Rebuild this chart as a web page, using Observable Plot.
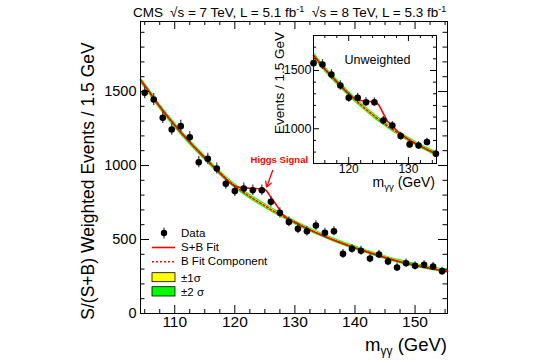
<!DOCTYPE html>
<html><head><meta charset="utf-8">
<script src="https://cdn.jsdelivr.net/npm/d3@7"></script>
<script src="https://cdn.jsdelivr.net/npm/@observablehq/plot@0.6"></script>
<style>
html,body{margin:0;padding:0;background:#fff;}
#wrap{position:relative;width:540px;height:360px;overflow:hidden;}
#wrap svg{position:absolute;}
</style></head><body><div id="wrap"></div>
<script>
const FONT = "'Liberation Sans', Arial, Helvetica, sans-serif";

// ---------- main panel: weighted ----------
const massMain = [105,106.5,108,109.5,111,112.5,114,115.5,117,118.5,120,121.5,123,124.5,126,127.5,129,130.5,132,133.5,135,136.5,138,139.5,141,142.5,144,145.5,147,148.5,150,151.5,153,154.5];
const eventsMain = [1491,1446,1322,1243,1266,1191,1022,1045,980,876,827,845,833,833,755,680,619,572,556,595,545,556,403,437,424,372,399,351,311,340,322,329,318,286];
const errMain = [40,40,39,39,39,38,38,38,37,37,36,36,36,36,35,34,33,33,32,32,31,31,30,30,30,29,29,28,28,28,27,27,27,27];

const bMassMain = [104.3,105,107.5,110,112.5,115,117.5,120,122.5,125,127.5,130,132.5,135,137.5,140,142.5,145,147.5,150,152.5,155,155.4];
const bFitMain  = [1577,1540,1398,1272,1157,1052,950,862,790,728,668,614,565,520,480,444,410,378,350,326,305,288,285];
const band1Main = [10,10,10,9,9,9,9,8,8,8,8,8,7,7,7,7,7,7,6,6,6,6,6];
const band2Main = [20,20,19,19,18,18,17,17,16,16,15,15,15,14,14,14,13,13,13,13,12,12,12];
const sbMassMain = [104.3,105,107.5,110,112.5,115,117.5,120,121,122.5,124,125,126,127,128,129,130,132.5,135,137.5,140,142.5,145,147.5,150,152.5,155,155.4];
const sbFitMain  = [1577,1540,1398,1272,1157,1052,950,862,852,846,843,838,785,728,668,636,616,565,520,480,444,410,378,350,326,305,288,285];

const xMajorMain = [110,120,130,140,150];
const xMinorMain = [105,107.5,112.5,115,117.5,122.5,125,127.5,132.5,135,137.5,142.5,145,147.5,152.5,155];
const yMajorMain = [0,500,1000,1500];
const yMinorMain = [100,200,300,400,600,700,800,900,1100,1200,1300,1400,1600,1700,1800,1900];

const higgsArrow = [{x1:126.3, y1:966, x2:125.3, y2:855}];
const higgsLabel = [{x:127.4, y:1040, text:"Higgs Signal"}];

// ---------- inset: unweighted ----------
const massInset = [114.1,115.6,117.1,118.6,120,121.5,122.9,124.3,125.8,127.3,128.7,130.2,131.7,133.1,134.6];
const eventsInset = [1563,1551,1466,1371,1266,1266,1228,1228,1071,1028,937,866,857,886,786];
const errInset = [42,42,41,40,38,38,37,37,35,35,33,32,32,32,30];
const bMassInset = [114.1,116,118,120,122,124,126,128,130,132,134,134.7];
const bFitInset  = [1630,1512,1402,1300,1206,1120,1042,972,908,851,800,784];
const band1Inset = [13,12,12,11,11,11,10,10,10,10,9,9];
const band2Inset = [26,25,24,23,22,21,21,20,20,19,19,19];
const sbMassInset = [114.1,116,118,120,121,122,123,124.3,125,125.8,126.5,127.3,128,129,130,132,134,134.7];
const sbFitInset  = [1630,1512,1402,1300,1256,1242,1236,1232,1205,1130,1065,1030,985,945,908,851,800,784];
const xMajorInset = [120,130];
const xMinorInset = [116,118,122,124,126,128,132,134];
const yMajorInset = [1000,1500];
const yMinorInset = [800,900,1100,1200,1300,1400,1600,1700];

const RED = "#ff0000", YEL = "#ffff00", GRN = "#00ff00";

function panelMarks(pts, band, sb, fw, fh, t, opts) {
  return [
    Plot.areaY(band, {x:"m", y1:d=>d.v-d.s2, y2:d=>d.v+d.s2, fill:GRN, curve:"monotone-x"}),
    Plot.areaY(band, {x:"m", y1:d=>d.v-d.s1, y2:d=>d.v+d.s1, fill:YEL, curve:"monotone-x"}),
    Plot.line(band, {x:"m", y:"v", stroke:RED, strokeWidth:1.5, strokeDasharray:"2,2", curve:"monotone-x"}),
    Plot.line(sb, {x:"m", y:"v", stroke:RED, strokeWidth:1.6, curve:"monotone-x"}),
    Plot.ruleX(pts, {x:"m", y1:d=>d.v-d.e, y2:d=>d.v+d.e, stroke:"#3a3a3a", strokeWidth:1.2}),
    Plot.dot(pts, {x:"m", y:"v", r:3.3, fill:"black"}),
    // ticks pointing inward on all four sides
    Plot.tickY(t.yMaj, {y:d=>d, insetRight:fw-t.ly, stroke:"black"}),
    Plot.tickY(t.yMin, {y:d=>d, insetRight:fw-t.sy, stroke:"black"}),
    Plot.tickY(t.yMaj, {y:d=>d, insetLeft:fw-t.ly, stroke:"black"}),
    Plot.tickY(t.yMin, {y:d=>d, insetLeft:fw-t.sy, stroke:"black"}),
    Plot.tickX(t.xMaj, {x:d=>d, insetTop:fh-t.lx, stroke:"black"}),
    Plot.tickX(t.xMin, {x:d=>d, insetTop:fh-t.sx, stroke:"black"}),
    Plot.tickX(t.xMaj, {x:d=>d, insetBottom:fh-t.lx, stroke:"black"}),
    Plot.tickX(t.xMin, {x:d=>d, insetBottom:fh-t.sx, stroke:"black"}),
    Plot.frame({stroke:"black", strokeWidth:1}),
    Plot.text(t.xMaj, {x:d=>d, text:d=>String(d), frameAnchor:"bottom", dy:opts.xdy, fontSize:opts.xfs}),
    Plot.text(t.yMaj, {y:d=>d, text:d=>String(d), frameAnchor:"left", textAnchor:"end", dx:opts.ydx, fontSize:opts.yfs})
  ];
}

const wrap = document.getElementById("wrap");

// main
const W = 540, H = 360, mL = 140, mR = 93, mT = 21, mB = 47;
const fwM = W-mL-mR, fhM = H-mT-mB;
const ptsMain = massMain.map((m,i)=>({m, v:eventsMain[i], e:errMain[i]}));
const bandMain = bMassMain.map((m,i)=>({m, v:bFitMain[i], s1:band1Main[i], s2:band2Main[i]}));
const sbMain = sbMassMain.map((m,i)=>({m, v:sbFitMain[i]}));

const main = Plot.plot({
  width:W, height:H, marginLeft:mL, marginRight:mR, marginTop:mT, marginBottom:mB,
  style:{fontFamily:FONT, background:"white", overflow:"visible", color:"black"},
  x:{domain:[104.3,155.4], axis:null},
  y:{domain:[0,1973], axis:null},
  marks:[
    ...panelMarks(ptsMain, bandMain, sbMain, fwM, fhM,
      {yMaj:yMajorMain, yMin:yMinorMain, xMaj:xMajorMain, xMin:xMinorMain, ly:9, sy:4.5, lx:8, sx:4},
      {xdy:13, xfs:15.5, ydx:-4, yfs:14.5}),
    Plot.arrow(higgsArrow, {x1:"x1", y1:"y1", x2:"x2", y2:"y2", stroke:RED, strokeWidth:1.3, headLength:7}),
    Plot.text(higgsLabel, {x:"x", y:"y", text:"text", fill:RED, fontWeight:"bold", fontSize:9.5})
  ]
});
main.style.left = "0px"; main.style.top = "0px";
wrap.appendChild(main);

const s = d3.select(main);
// title
const title = s.append("g").attr("font-family", FONT).attr("font-size", 13.5).attr("fill","black").attr("text-anchor","start");
title.append("text").attr("x",133).attr("y",17).text("CMS");
[["√s = 7 TeV, L = 5.1 fb",170],["√s = 8 TeV, L = 5.3 fb",312]].forEach(([t,x])=>{
  const tx = title.append("text").attr("x",x).attr("y",17);
  tx.append("tspan").text(t);
  tx.append("tspan").attr("font-size",9).attr("dy",-5).text("-1");
});
// y title
s.append("text").attr("font-family",FONT).attr("font-size",17.5).attr("text-anchor","middle")
  .attr("transform","translate(94,181) rotate(-90)").text("S/(S+B) Weighted Events / 1.5 GeV");
// x title
const xt = s.append("text").attr("font-family",FONT).attr("font-size",18.5).attr("text-anchor","end").attr("x",447).attr("y",351);
xt.append("tspan").text("m");
xt.append("tspan").attr("font-size",12).attr("dy",4).text("γγ");
xt.append("tspan").attr("dy",-4).text(" (GeV)");
// legend
const lg = s.append("g").attr("font-family",FONT).attr("font-size",11.5).attr("text-anchor","start");
lg.append("line").attr("x1",164).attr("x2",164).attr("y1",227.5).attr("y2",238.5).attr("stroke","#3a3a3a").attr("stroke-width",1.2);
lg.append("circle").attr("cx",164).attr("cy",233).attr("r",3.2).attr("fill","black");
lg.append("text").attr("x",181).attr("y",232.5).attr("dy","0.36em").text("Data");
lg.append("line").attr("x1",152).attr("x2",175).attr("y1",247.5).attr("y2",247.5).attr("stroke",RED).attr("stroke-width",1.6);
lg.append("text").attr("x",181).attr("y",246.7).attr("dy","0.36em").text("S+B Fit");
lg.append("line").attr("x1",152).attr("x2",175).attr("y1",261.7).attr("y2",261.7).attr("stroke",RED).attr("stroke-width",1.5).attr("stroke-dasharray","2,2");
lg.append("text").attr("x",181).attr("y",261).attr("dy","0.36em").text("B Fit Component");
lg.append("rect").attr("x",152).attr("y",272.7).attr("width",23).attr("height",9).attr("fill",YEL).attr("stroke","black").attr("stroke-width",0.8);
lg.append("text").attr("x",181).attr("y",277.5).attr("dy","0.36em").text("±1σ");
lg.append("rect").attr("x",152).attr("y",286.7).attr("width",23).attr("height",9.3).attr("fill",GRN).attr("stroke","black").attr("stroke-width",0.8);
lg.append("text").attr("x",181).attr("y",291.5).attr("dy","0.36em").text("±2 σ");

// inset
const iW = 190, iH = 180, iL = 53, iR = 14, iT = 15, iB = 37, offX = 260, offY = 20;
const fwI = iW-iL-iR, fhI = iH-iT-iB;
const ptsInset = massInset.map((m,i)=>({m, v:eventsInset[i], e:errInset[i]}));
const bandInset = bMassInset.map((m,i)=>({m, v:bFitInset[i], s1:band1Inset[i], s2:band2Inset[i]}));
const sbInset = sbMassInset.map((m,i)=>({m, v:sbFitInset[i]}));
const inset = Plot.plot({
  width:iW, height:iH, marginLeft:iL, marginRight:iR, marginTop:iT, marginBottom:iB,
  style:{fontFamily:FONT, background:"transparent", overflow:"visible", color:"black"},
  x:{domain:[114.1,134.7], axis:null},
  y:{domain:[702,1800], axis:null},
  marks:[
    Plot.frame({fill:"white"}),
    ...panelMarks(ptsInset, bandInset, sbInset, fwI, fhI,
      {yMaj:yMajorInset, yMin:yMinorInset, xMaj:xMajorInset, xMin:xMinorInset, ly:6, sy:3, lx:6, sx:3},
      {xdy:9, xfs:12, ydx:-2, yfs:12.5}),
    Plot.text(["Unweighted"], {frameAnchor:"top", dy:20, dx:2.5, fontSize:12.5})
  ]
});
inset.style.left = offX+"px"; inset.style.top = offY+"px";
wrap.appendChild(inset);
const si = d3.select(inset);
si.append("text").attr("font-family",FONT).attr("font-size",13.5).attr("text-anchor","middle")
  .attr("transform",`translate(${284-offX},${83-offY}) rotate(-90)`).text("Events / 1.5 GeV");
const ixt = si.append("text").attr("font-family",FONT).attr("font-size",14).attr("text-anchor","end").attr("x",435-offX).attr("y",187-offY);
ixt.append("tspan").text("m");
ixt.append("tspan").attr("font-size",9.5).attr("dy",3).text("γγ");
ixt.append("tspan").attr("dy",-3).text(" (GeV)");
</script></body></html>
